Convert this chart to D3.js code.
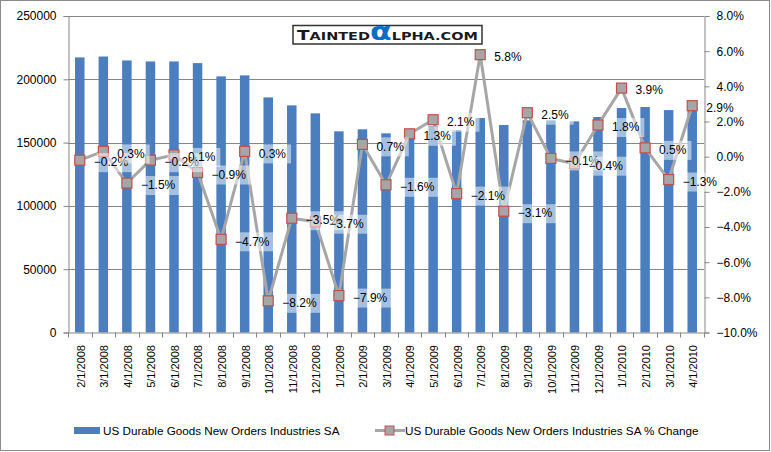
<!DOCTYPE html>
<html>
<head>
<meta charset="utf-8">
<script src="https://cdn.jsdelivr.net/npm/d3@7"></script>
<style>
  body { margin: 0; background: #fff; }
  text { font-family: "Liberation Sans", Arial, sans-serif; fill: #000; }
</style>
</head>
<body>
<script>
// months on the x axis
var months = ['2/1/2008','3/1/2008','4/1/2008','5/1/2008','6/1/2008','7/1/2008','8/1/2008','9/1/2008',
  '10/1/2008','11/1/2008','12/1/2008','1/1/2009','2/1/2009','3/1/2009','4/1/2009','5/1/2009','6/1/2009',
  '7/1/2009','8/1/2009','9/1/2009','10/1/2009','11/1/2009','12/1/2009','1/1/2010','2/1/2010','3/1/2010','4/1/2010'];

// new orders, millions
var orders = [217300, 218000, 214900, 214100, 214100, 212800, 202300, 203100,
  185700, 179400, 173100, 158900, 160500, 157300, 158900, 162800, 159900,
  169400, 163900, 167600, 167600, 166800, 170200, 177300, 178100, 175700, 179400];

// month on month % change (from the data labels)
var pctChange = [-0.2, 0.3, -1.5, -0.2, 0.1, -0.9, -4.7, 0.3,
  -8.2, -3.5, -3.7, -7.9, 0.7, -1.6, 1.3, 2.1, -2.1,
  5.8, -3.1, 2.5, -0.1, -0.4, 1.8, 3.9, 0.5, -1.3, 2.9];

var leftTicks = [0, 50000, 100000, 150000, 200000, 250000];
var rightTicks = [-10, -8, -6, -4, -2, 0, 2, 4, 6, 8];

var barLabel = 'US Durable Goods New Orders Industries SA';
var lineLabel = 'US Durable Goods New Orders Industries SA % Change';

var W = 771, H = 452;
var plot = {left: 68, right: 704, top: 16, bottom: 332.5};
var axisColor = '#868686';
var barColor = '#4a7ebf';
var lineColor = '#a6a6a6';
var markerStroke = '#c0504d';

var svg = d3.select('body').append('svg')
  .attr('width', W)
  .attr('height', H);

svg.append('rect')
  .attr('x', 0.5).attr('y', 0.5)
  .attr('width', W - 2).attr('height', H - 2)
  .attr('fill', '#fff')
  .attr('stroke', '#8c8c8c');

// scales
var x = d3.scaleBand().domain(months).range([plot.left, plot.right]);
var yL = d3.scaleLinear().domain([0, 250000]).range([plot.bottom, plot.top]);
var yR = d3.scaleLinear().domain([-10, 8]).range([plot.bottom, plot.top]);

// gridlines
svg.append('g').selectAll('line')
  .data(leftTicks.slice(1))
  .join('line')
  .attr('x1', plot.left).attr('x2', plot.right)
  .attr('y1', d => Math.round(yL(d)) + 0.5).attr('y2', d => Math.round(yL(d)) + 0.5)
  .attr('stroke', axisColor);

// bars
var barW = 9.5;
svg.append('g').selectAll('rect')
  .data(orders)
  .join('rect')
  .attr('x', (d, i) => x(months[i]) + x.bandwidth() / 2 - barW / 2)
  .attr('y', d => yL(d))
  .attr('width', barW)
  .attr('height', d => plot.bottom - yL(d))
  .attr('fill', barColor);

// axes
var leftAxis = d3.axisLeft(yL).tickValues(leftTicks).tickSize(5).tickPadding(7).tickFormat(d3.format('d'));
var rightAxis = d3.axisRight(yR).tickValues(rightTicks).tickSize(5).tickPadding(7).tickFormat(d => d3.format('.1f')(d) + '%');

var gl = svg.append('g').attr('transform', 'translate(' + (plot.left + 0.5) + ',0)').call(leftAxis);
var gr = svg.append('g').attr('transform', 'translate(' + (plot.right + 0.5) + ',0)').call(rightAxis);
[gl, gr].forEach(function(g){
  g.select('.domain').attr('stroke', axisColor);
  g.selectAll('.tick line').attr('stroke', axisColor);
  g.selectAll('.tick text').style('font-size', '12px').attr('fill', '#000');
});

// bottom axis with ticks between categories
var gx = svg.append('g');
gx.append('line')
  .attr('x1', plot.left).attr('x2', plot.right)
  .attr('y1', plot.bottom + 0.5).attr('y2', plot.bottom + 0.5)
  .attr('stroke', axisColor);
gx.selectAll('line.tk')
  .data(months.concat(['end']))
  .join('line')
  .attr('class', 'tk')
  .attr('x1', (d, i) => Math.round(plot.left + i * x.bandwidth()) + 0.5)
  .attr('x2', (d, i) => Math.round(plot.left + i * x.bandwidth()) + 0.5)
  .attr('y1', plot.bottom).attr('y2', plot.bottom + 5)
  .attr('stroke', axisColor);
gx.selectAll('text')
  .data(months)
  .join('text')
  .attr('transform', d => 'translate(' + (x(d) + x.bandwidth() / 2 + 1) + ',345) rotate(-90)')
  .attr('text-anchor', 'end')
  .attr('dy', '0.35em')
  .style('font-size', '11px')
  .text(d => d);

// % change line
var pts = pctChange.map((d, i) => ({x: x(months[i]) + x.bandwidth() / 2, y: yR(d), v: d}));
svg.append('path')
  .attr('d', d3.line().x(d => d.x).y(d => d.y)(pts))
  .attr('fill', 'none')
  .attr('stroke', lineColor)
  .attr('stroke-width', 3)
  .attr('stroke-linejoin', 'round');

svg.append('g').selectAll('rect')
  .data(pts)
  .join('rect')
  .attr('x', d => d.x - 5).attr('y', d => d.y - 5)
  .attr('width', 10).attr('height', 10)
  .attr('fill', lineColor)
  .attr('stroke', markerStroke)
  .attr('stroke-width', 1.2);

// data labels with see-through boxes
var lab = svg.append('g').selectAll('g')
  .data(pts)
  .join('g')
  .attr('transform', d => 'translate(' + (d.x + 14) + ',' + (d.y + 2) + ')');
lab.append('rect')
  .attr('class', 'bg')
  .attr('fill', '#fff')
  .attr('fill-opacity', 0.5);
lab.append('text')
  .attr('dy', '0.35em')
  .style('font-size', '12px')
  .text(d => d3.format('.1f')(d.v) + '%');
lab.each(function(){
  var t = d3.select(this).select('text').node().getComputedTextLength();
  d3.select(this).select('rect.bg')
    .attr('x', 3).attr('y', -9)
    .attr('width', t + 2).attr('height', 19);
});

// logo
var logo = svg.append('g');
logo.append('rect')
  .attr('x', 293).attr('y', 25.5)
  .attr('width', 189).attr('height', 18.5)
  .attr('fill', '#fff')
  .attr('stroke', '#333')
  .attr('stroke-width', 1.5);
var lt = logo.append('text')
  .attr('x', 0).attr('y', 0)
  .style('font-family', '"DejaVu Sans", sans-serif')
  .style('font-weight', 'bold');
lt.append('tspan').style('font-size', '14px').attr('fill', '#1a1a1a').text('T');
lt.append('tspan').style('font-size', '11px').attr('fill', '#1a1a1a').text('AINTED');
lt.append('tspan').style('font-size', '24px').attr('fill', '#0a6fc4').style('font-family', '"DejaVu Sans", sans-serif').text('\u03b1');
lt.append('tspan').style('font-size', '11px').attr('fill', '#1a1a1a').text('LPHA.COM');
var lw = lt.node().getComputedTextLength();
lt.attr('transform', 'translate(297,40) scale(' + (181 / lw) + ',1)');

// legend
var leg = svg.append('g');
leg.append('rect')
  .attr('x', 74).attr('y', 427)
  .attr('width', 26).attr('height', 7)
  .attr('fill', barColor);
leg.append('text')
  .attr('x', 103).attr('y', 434.5)
  .style('font-size', '11.7px')
  .text(barLabel);
leg.append('line')
  .attr('x1', 375).attr('x2', 405)
  .attr('y1', 430.5).attr('y2', 430.5)
  .attr('stroke', lineColor)
  .attr('stroke-width', 3);
leg.append('rect')
  .attr('x', 385).attr('y', 426)
  .attr('width', 9).attr('height', 9)
  .attr('fill', lineColor)
  .attr('stroke', markerStroke);
leg.append('text')
  .attr('x', 405).attr('y', 434.5)
  .style('font-size', '11.7px')
  .text(lineLabel);
</script>
</body>
</html>
